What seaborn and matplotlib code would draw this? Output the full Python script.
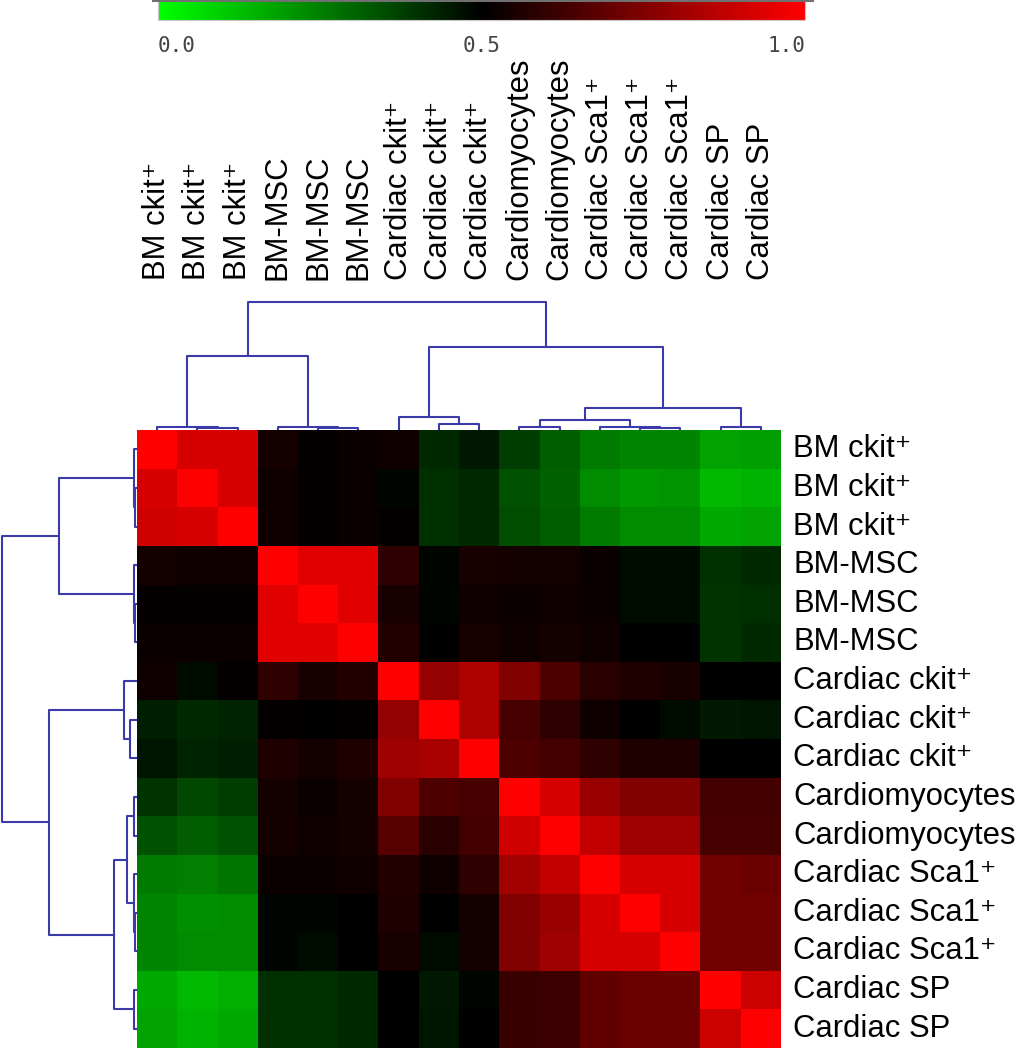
import numpy as np
import pandas as pd
import matplotlib
matplotlib.use("Agg")
import matplotlib.pyplot as plt
import seaborn as sns
from matplotlib.colors import LinearSegmentedColormap
from matplotlib.lines import Line2D

plt.rcParams['font.family'] = ['Liberation Sans', 'DejaVu Sans']

# ---------------- data ----------------
labels = ["BM ckit⁺", "BM ckit⁺", "BM ckit⁺",
          "BM-MSC", "BM-MSC", "BM-MSC",
          "Cardiac ckit⁺", "Cardiac ckit⁺", "Cardiac ckit⁺",
          "Cardiomyocytes", "Cardiomyocytes",
          "Cardiac Sca1⁺", "Cardiac Sca1⁺", "Cardiac Sca1⁺",
          "Cardiac SP", "Cardiac SP"]

row_bm_ckit_1 = [1.00, 0.92, 0.92, 0.54, 0.51, 0.52, 0.53, 0.42, 0.45, 0.38, 0.32, 0.26, 0.24, 0.24, 0.18, 0.19]
row_bm_ckit_2 = [0.92, 1.00, 0.92, 0.53, 0.51, 0.52, 0.49, 0.41, 0.42, 0.34, 0.31, 0.23, 0.20, 0.21, 0.14, 0.15]
row_bm_ckit_3 = [0.91, 0.92, 1.00, 0.53, 0.51, 0.52, 0.51, 0.41, 0.42, 0.35, 0.32, 0.26, 0.23, 0.23, 0.17, 0.18]
row_bm_msc_1 = [0.54, 0.53, 0.53, 1.00, 0.94, 0.94, 0.59, 0.49, 0.55, 0.54, 0.54, 0.52, 0.48, 0.48, 0.41, 0.42]
row_bm_msc_2 = [0.51, 0.51, 0.51, 0.94, 1.00, 0.94, 0.55, 0.49, 0.53, 0.52, 0.53, 0.52, 0.48, 0.48, 0.40, 0.41]
row_bm_msc_3 = [0.52, 0.52, 0.52, 0.94, 0.94, 1.00, 0.57, 0.50, 0.55, 0.53, 0.54, 0.53, 0.50, 0.50, 0.40, 0.42]
row_c_ckit_1 = [0.53, 0.48, 0.51, 0.59, 0.55, 0.57, 1.00, 0.79, 0.84, 0.75, 0.65, 0.58, 0.56, 0.55, 0.50, 0.50]
row_c_ckit_2 = [0.44, 0.42, 0.43, 0.51, 0.50, 0.51, 0.79, 1.00, 0.84, 0.64, 0.59, 0.53, 0.50, 0.48, 0.45, 0.46]
row_c_ckit_3 = [0.46, 0.43, 0.44, 0.56, 0.54, 0.56, 0.81, 0.83, 1.00, 0.65, 0.63, 0.59, 0.56, 0.56, 0.50, 0.50]
row_cm_1 = [0.40, 0.36, 0.38, 0.54, 0.52, 0.54, 0.75, 0.65, 0.64, 1.00, 0.92, 0.80, 0.75, 0.75, 0.63, 0.63]
row_cm_2 = [0.34, 0.32, 0.34, 0.54, 0.53, 0.54, 0.67, 0.58, 0.63, 0.91, 1.00, 0.88, 0.81, 0.81, 0.64, 0.64]
row_sca_1 = [0.26, 0.25, 0.27, 0.52, 0.52, 0.53, 0.57, 0.53, 0.59, 0.82, 0.88, 1.00, 0.92, 0.92, 0.72, 0.71]
row_sca_2 = [0.24, 0.22, 0.23, 0.49, 0.49, 0.50, 0.56, 0.50, 0.54, 0.75, 0.80, 0.92, 1.00, 0.92, 0.72, 0.72]
row_sca_3 = [0.24, 0.23, 0.23, 0.49, 0.48, 0.50, 0.55, 0.48, 0.54, 0.75, 0.81, 0.92, 0.92, 1.00, 0.72, 0.72]
row_sp_1 = [0.17, 0.14, 0.16, 0.41, 0.41, 0.42, 0.50, 0.45, 0.49, 0.61, 0.62, 0.69, 0.71, 0.71, 1.00, 0.90]
row_sp_2 = [0.18, 0.15, 0.17, 0.41, 0.41, 0.42, 0.50, 0.46, 0.50, 0.61, 0.62, 0.69, 0.71, 0.71, 0.90, 1.00]

rows = [row_bm_ckit_1, row_bm_ckit_2, row_bm_ckit_3, row_bm_msc_1, row_bm_msc_2, row_bm_msc_3,
        row_c_ckit_1, row_c_ckit_2, row_c_ckit_3, row_cm_1, row_cm_2,
        row_sca_1, row_sca_2, row_sca_3, row_sp_1, row_sp_2]

# hierarchical clustering merges (left node, right node, height); new nodes numbered from 16
merges = [(1, 2, 0.015), (0, 16, 0.025),
          (4, 5, 0.015), (3, 18, 0.025),
          (17, 19, 0.58),
          (7, 8, 0.05), (6, 21, 0.10),
          (9, 10, 0.025),
          (12, 13, 0.015), (11, 24, 0.025),
          (23, 25, 0.075),
          (14, 15, 0.025),
          (26, 27, 0.17),
          (22, 28, 0.65),
          (20, 29, 1.00)]

cbar_ticks = [0.0, 0.5, 1.0]
cbar_ticklabels = ["0.0", "0.5", "1.0"]

# ---------------- figure ----------------
W, H = 1017, 1050
fig = plt.figure(figsize=(W / 100, H / 100), dpi=100)

def fx(px):
    return px / W

def fy(py):
    return 1 - py / H

hm_l, hm_r, hm_t, hm_b = 137, 781, 430, 1048
ax = fig.add_axes([fx(hm_l), fy(hm_b), fx(hm_r - hm_l), (hm_b - hm_t) / H])
ax_top = fig.add_axes([fx(hm_l), fy(hm_t), fx(hm_r - hm_l), (hm_t - 302) / H])
ax_left = fig.add_axes([fx(2), fy(hm_b), fx(hm_l - 2), (hm_b - hm_t) / H])
cax = fig.add_axes([fx(158), fy(20), fx(805 - 158), 20 / H])

cmap = LinearSegmentedColormap.from_list("gkr", [(0, 1, 0), (0, 0, 0), (1, 0, 0)])

df = pd.DataFrame(rows, index=range(len(labels)), columns=range(len(labels)))
sns.heatmap(df, ax=ax, cmap=cmap, vmin=0, vmax=1, cbar_ax=cax,
            cbar_kws={"orientation": "horizontal"},
            xticklabels=labels, yticklabels=labels, linewidths=0)

ax.xaxis.tick_top()
ax.yaxis.tick_right()
ax.set_xticklabels(labels, rotation=90, fontsize=22.3, va="bottom", ha="center")
ax.set_yticklabels(labels, rotation=0, fontsize=22.3, va="center", ha="left")
ax.tick_params(axis="x", length=0, pad=108, top=True, bottom=False)
ax.tick_params(axis="y", length=0, pad=9, right=True, left=False)
ax.set_xlabel("")
ax.set_ylabel("")

# colorbar
cb = ax.collections[0].colorbar
cb.outline.set_edgecolor("#c8c8c8")
cb.outline.set_linewidth(0.8)
cax.set_xticks([])
for v, t, ha in zip(cbar_ticks, cbar_ticklabels, ["left", "center", "right"]):
    cax.text(v, -0.8, t, transform=cax.get_xaxis_transform(), ha=ha, va="top",
             fontsize=15, family="DejaVu Sans Mono", color="#444444")
fig.add_artist(Line2D([fx(153), fx(813)], [fy(0.6), fy(0.6)], color="#707070", lw=1.5))

# dendrograms
n = len(labels)
pos = {i: i + 0.5 for i in range(n)}
hgt = {i: 0.0 for i in range(n)}
segs = []
for k, (a, b, h) in enumerate(merges):
    segs.append(([pos[a], pos[a], pos[b], pos[b]], [hgt[a], h, h, hgt[b]]))
    pos[n + k] = (pos[a] + pos[b]) / 2
    hgt[n + k] = h

line_col = "#3a3aa8"
root_h = merges[-1][2]
for xs, ys in segs:
    ax_top.plot(xs, ys, color=line_col, lw=1.5, clip_on=False, solid_capstyle="butt")
    ax_left.plot(ys, xs, color=line_col, lw=1.5, clip_on=False, solid_capstyle="butt")
ax_top.set_xlim(0, n)
ax_top.set_ylim(0, root_h)
ax_left.set_ylim(n, 0)
ax_left.set_xlim(root_h, 0)
for a in (ax_top, ax_left):
    a.axis("off")

fig.savefig("out.png", dpi=100)
